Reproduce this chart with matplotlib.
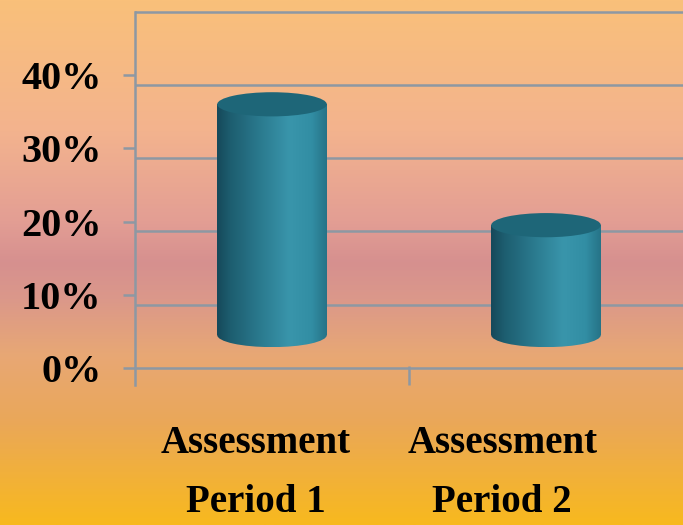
import matplotlib
matplotlib.use('Agg')
import matplotlib.pyplot as plt
import matplotlib.transforms as mtransforms
import numpy as np
from matplotlib.colors import LinearSegmentedColormap
from matplotlib.patches import Ellipse, Rectangle

# data
categories = ['Assessment\nPeriod 1', 'Assessment\nPeriod 2']
values = [36, 19.5]   # percent
y_ticks = [0, 10, 20, 30, 40]
y_tick_labels = ['0%', '10%', '20%', '30%', '40%']

# fake 3D geometry, in data units
base = 4.5          # cylinders stand a bit above the front floor edge
cyl_width = 0.40
cap_height = 3.3
wall_shift = 1.35   # back wall gridlines sit lower than the front ticks
wall_top = 50
label_shift = [-0.06, -0.16]

grid_c = '#8d98a3'
top_c = '#1e6678'

plt.rcParams['font.family'] = ['Liberation Serif', 'DejaVu Serif']

fig = plt.figure(figsize=(6.83, 5.25), dpi=100)

# background gradient over the whole figure
bg = fig.add_axes([0, 0, 1, 1], zorder=0)
bg_cmap = LinearSegmentedColormap.from_list('bg', [
    (0.00, '#f9c07a'), (0.25, '#f3b38e'), (0.42, '#e39e94'),
    (0.50, '#d6908f'), (0.57, '#db988a'), (0.68, '#e8a874'),
    (0.80, '#eaa75a'), (1.00, '#f8b91e')])
grad = np.linspace(0, 1, 256).reshape(-1, 1)
bg.imshow(grad, cmap=bg_cmap, aspect='auto', extent=[0, 1, 0, 1], origin='upper')
bg.set_axis_off()

ax = fig.add_axes([135 / 683, 1 - 385 / 525, 1 - 135 / 683, 385 / 525], zorder=1)
ax.set_facecolor('none')
y_lo, y_hi = -17 / 7.325, 368 / 7.325

# back wall gridlines and floor edge
for v in y_ticks[1:]:
    ax.axhline(v - wall_shift, color=grid_c, lw=1.8, zorder=1)
ax.axhline(wall_top - wall_shift, color=grid_c, lw=1.8, zorder=1)
ax.axhline(0, color=grid_c, lw=1.8, zorder=1)

# cylinders
cyl_cmap = LinearSegmentedColormap.from_list('cyl', [
    (0.00, '#16495a'), (0.12, '#1d5d6f'), (0.38, '#2a798d'),
    (0.66, '#3995ab'), (0.86, '#328ea4'), (1.00, '#267387')])
h_grad = np.linspace(0, 1, 256).reshape(1, -1)
for i, v in enumerate(values):
    x0 = i - cyl_width / 2
    body = ax.imshow(h_grad, cmap=cyl_cmap, aspect='auto', zorder=3,
                     extent=[x0, x0 + cyl_width, base - cap_height / 2, v])
    body.set_clip_path(Rectangle((x0, base), cyl_width, v - base,
                                 transform=ax.transData))
    bottom = ax.imshow(h_grad, cmap=cyl_cmap, aspect='auto', zorder=3,
                       extent=[x0, x0 + cyl_width, base - cap_height / 2, v])
    bottom.set_clip_path(Ellipse((i, base), cyl_width, cap_height,
                                 transform=ax.transData))
    ax.add_patch(Ellipse((i, v), cyl_width, cap_height, facecolor=top_c,
                         edgecolor='none', zorder=4))

ax.set_xlim(-0.5, 1.5)
ax.set_ylim(y_lo, y_hi)

for side in ['top', 'right', 'bottom']:
    ax.spines[side].set_visible(False)
ax.spines['left'].set_color(grid_c)
ax.spines['left'].set_linewidth(1.8)
ax.spines['left'].set_bounds(y_lo, wall_top - wall_shift)

ax.set_yticks(y_ticks, y_tick_labels)
ax.tick_params(axis='y', length=9, width=1.8, color=grid_c, pad=15,
               labelsize=29)
for lab in ax.get_yticklabels():
    lab.set_fontweight('bold')

# category separator tick rising from the axes bottom to the floor edge
ax.set_xticks([0.5], [''])
ax.tick_params(axis='x', direction='in', length=13.7, width=1.8, color=grid_c)

trans = mtransforms.blended_transform_factory(ax.transData, fig.transFigure)
for i, cat in enumerate(categories):
    ax.text(i + label_shift[i], 1 - 425 / 525, cat, transform=trans,
            ha='center', va='top', fontsize=28, fontweight='bold',
            linespacing=1.8, clip_on=False)

fig.savefig('out.png', dpi=100)
